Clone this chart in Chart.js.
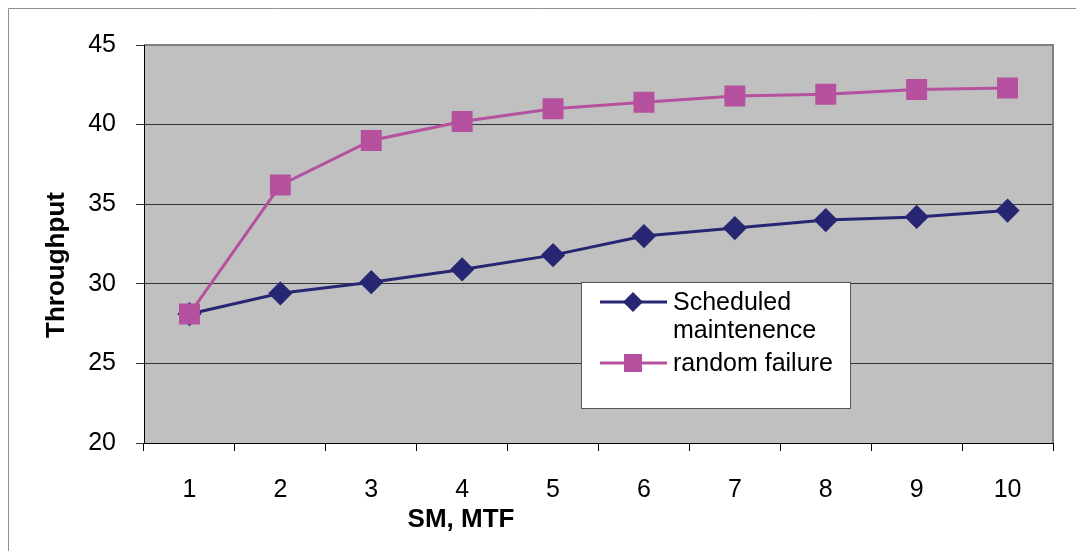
<!DOCTYPE html>
<html>
<head>
<meta charset="utf-8">
<script src="https://cdn.jsdelivr.net/npm/chart.js@4/dist/chart.umd.min.js"></script>
<style>
html,body{margin:0;padding:0;background:#fff;}
#wrap{width:1076px;height:551px;position:relative;}
</style>
</head>
<body>
<div id="wrap"><canvas id="c" width="1076" height="551"></canvas></div>
<script>
const categories = ['1','2','3','4','5','6','7','8','9','10'];
const scheduledMaintenance = [28.1, 29.4, 30.1, 30.9, 31.8, 33.0, 33.5, 34.0, 34.2, 34.6];
const randomFailure = [28.1, 36.2, 39.0, 40.2, 41.0, 41.4, 41.8, 41.9, 42.2, 42.3];
const seriesNames = [['Scheduled', 'maintenence'], ['random failure']];
const yTicks = [20, 25, 30, 35, 40, 45];
const xTitle = 'SM, MTF';
const yTitle = 'Throughput';

const FONT = 'Liberation Sans, Arial, sans-serif';
const NAVY = '#262673';
const MAGENTA = '#B5519F';

const decorPlugin = {
  id: 'decor',
  beforeDraw(chart) {
    const ctx = chart.ctx;
    ctx.save();
    ctx.fillStyle = '#fff';
    ctx.fillRect(0, 0, chart.width, chart.height);
    ctx.strokeStyle = '#909090';
    ctx.lineWidth = 1;
    ctx.beginPath();
    ctx.moveTo(8.5, 551);
    ctx.lineTo(8.5, 8.5);
    ctx.lineTo(1076, 8.5);
    ctx.stroke();
    const a = chart.chartArea;
    ctx.fillStyle = '#C0C0C0';
    ctx.fillRect(a.left, a.top, a.right - a.left, a.bottom - a.top);
    ctx.restore();
  },
  afterDatasetsDraw(chart) {
    const ctx = chart.ctx;
    const a = chart.chartArea;
    ctx.save();
    ctx.strokeStyle = '#808080';
    ctx.lineWidth = 2;
    ctx.beginPath();
    ctx.moveTo(a.left, a.top);
    ctx.lineTo(a.right, a.top);
    ctx.lineTo(a.right, a.bottom);
    ctx.stroke();
    ctx.strokeStyle = '#000';
    ctx.lineWidth = 1;
    ctx.beginPath();
    ctx.moveTo(a.left + 0.5, a.top);
    ctx.lineTo(a.left + 0.5, a.bottom + 0.5);
    ctx.lineTo(a.right, a.bottom + 0.5);
    ctx.stroke();

    // legend
    const lx = 581, ly = 282, lw = 269, lh = 126;
    ctx.fillStyle = '#fff';
    ctx.fillRect(lx, ly, lw, lh);
    ctx.strokeStyle = '#555';
    ctx.lineWidth = 1;
    ctx.strokeRect(lx + 0.5, ly + 0.5, lw, lh);
    const items = [
      {ds: chart.data.datasets[0], y: 302, ty: 303, lines: seriesNames[0]},
      {ds: chart.data.datasets[1], y: 363, ty: 364, lines: seriesNames[1]}
    ];
    items.forEach(it => {
      ctx.strokeStyle = it.ds.borderColor;
      ctx.lineWidth = 3;
      ctx.beginPath();
      ctx.moveTo(600, it.y);
      ctx.lineTo(667, it.y);
      ctx.stroke();
      ctx.fillStyle = it.ds.pointBackgroundColor;
      if (it.ds.pointStyle === 'rectRot') {
        ctx.beginPath();
        ctx.moveTo(633, it.y - 10);
        ctx.lineTo(643, it.y);
        ctx.lineTo(633, it.y + 10);
        ctx.lineTo(623, it.y);
        ctx.closePath();
        ctx.fill();
      } else {
        ctx.fillRect(624, it.y - 9, 18, 18);
      }
      ctx.fillStyle = '#000';
      ctx.font = '25px ' + FONT;
      ctx.textBaseline = 'middle';
      ctx.textAlign = 'left';
      it.lines.forEach((t, i) => ctx.fillText(t, 673, it.ty + i * 28));
    });

    // axis titles
    ctx.fillStyle = '#000';
    ctx.font = 'bold 26px ' + FONT;
    ctx.textAlign = 'center';
    ctx.textBaseline = 'middle';
    ctx.fillText(xTitle, 461, 520);
    ctx.translate(57, 265);
    ctx.rotate(-Math.PI / 2);
    ctx.fillText(yTitle, 0, 0);
    ctx.restore();
  }
};

new Chart(document.getElementById('c'), {
  type: 'line',
  data: {
    labels: categories,
    datasets: [
      {
        label: seriesNames[0].join(' '),
        data: scheduledMaintenance,
        borderColor: NAVY,
        backgroundColor: NAVY,
        pointBackgroundColor: NAVY,
        pointBorderColor: NAVY,
        pointStyle: 'rectRot',
        pointRadius: 10,
        pointHoverRadius: 10,
        borderWidth: 3,
        tension: 0,
        order: 1
      },
      {
        label: seriesNames[1].join(' '),
        data: randomFailure,
        borderColor: MAGENTA,
        backgroundColor: MAGENTA,
        pointBackgroundColor: MAGENTA,
        pointBorderColor: MAGENTA,
        pointStyle: 'rect',
        pointRadius: 12.7,
        pointHoverRadius: 12.7,
        borderWidth: 3,
        tension: 0,
        order: 0
      }
    ]
  },
  options: {
    responsive: false,
    animation: false,
    layout: {padding: {left: 0, top: 45, right: 23, bottom: 0}},
    plugins: {legend: {display: false}, tooltip: {enabled: false}},
    scales: {
      x: {
        type: 'category',
        offset: true,
        afterFit: s => { s.height = 108; },
        grid: {offset: true, drawOnChartArea: false, drawTicks: true, tickLength: 8, color: '#000', lineWidth: 1},
        border: {display: false},
        ticks: {color: '#000', font: {family: FONT, size: 25}, padding: 24, maxRotation: 0, autoSkip: false}
      },
      y: {
        min: 20,
        max: 45,
        afterFit: s => { s.width = 144; },
        afterBuildTicks: s => { s.ticks = yTicks.map(v => ({value: v})); },
        grid: {color: '#333', lineWidth: 1, tickLength: 8, drawTicks: true},
        border: {display: false},
        ticks: {color: '#000', font: {family: FONT, size: 25}, padding: 20}
      }
    }
  },
  plugins: [decorPlugin]
});
</script>
</body>
</html>
